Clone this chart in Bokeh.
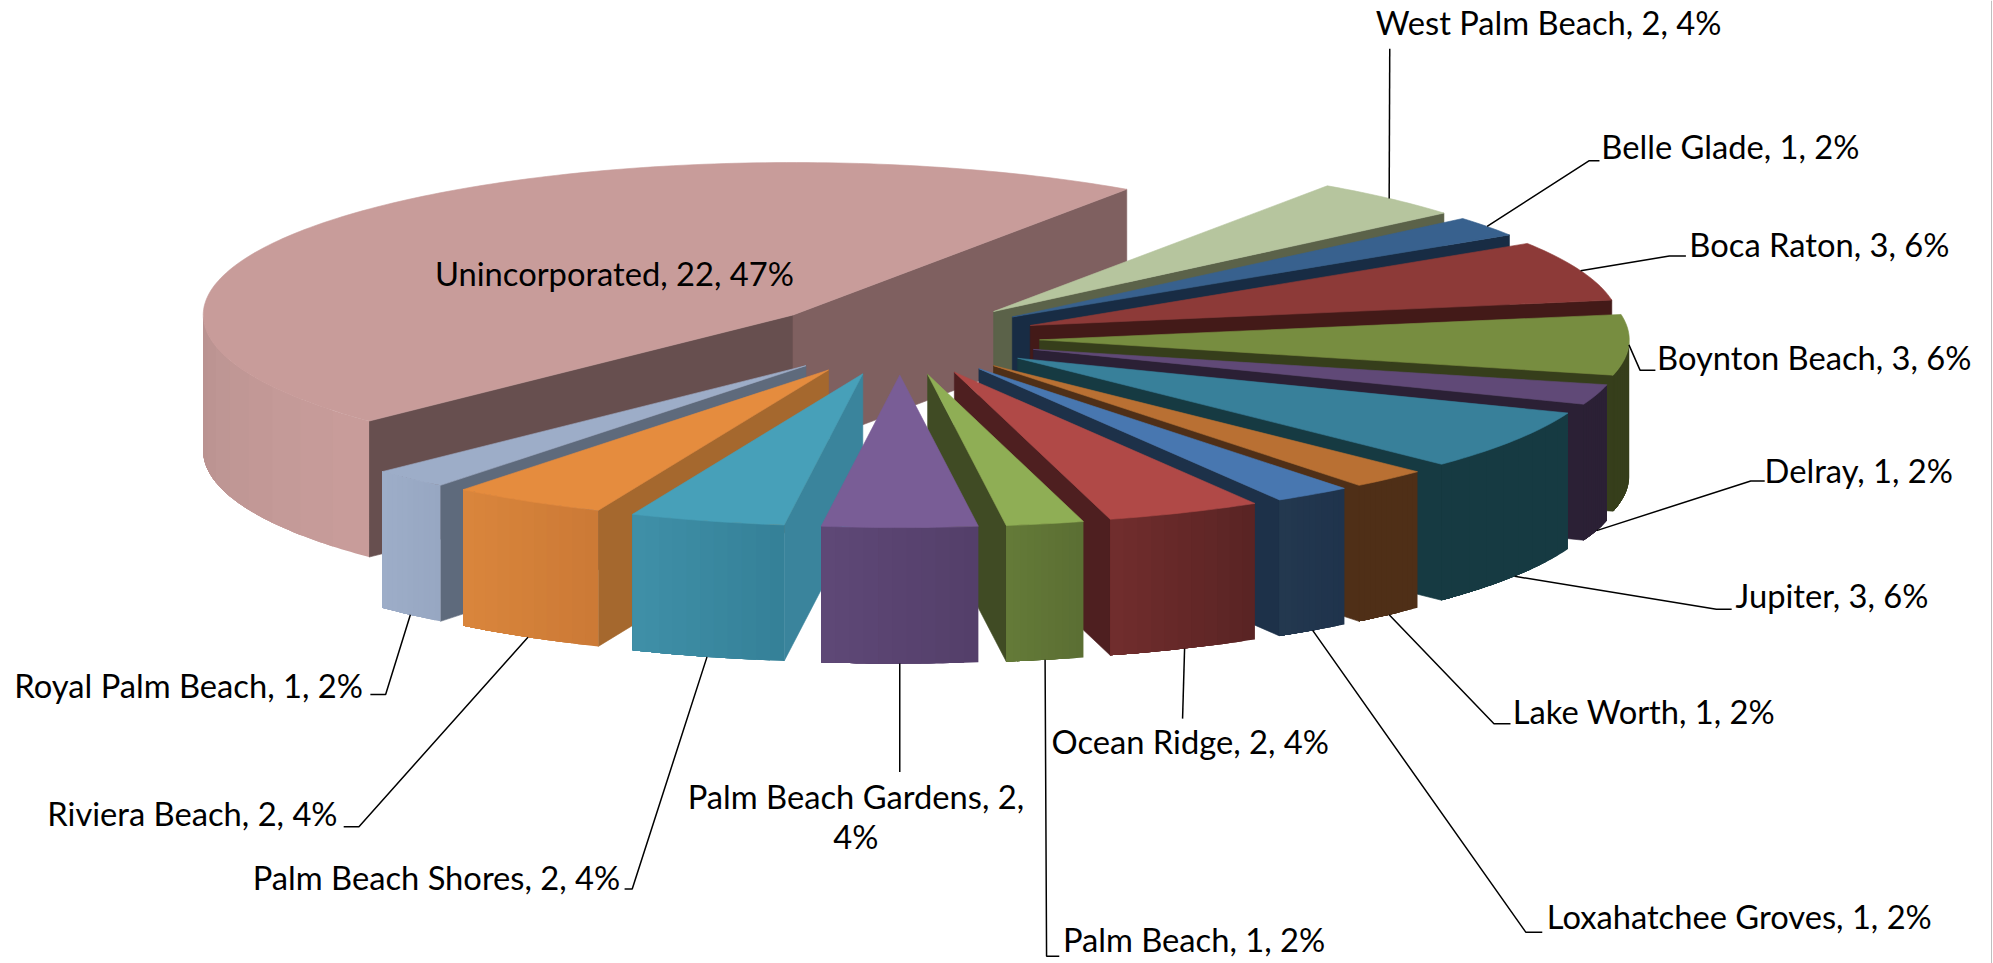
import math
from bokeh.plotting import figure
from bokeh.models import ColumnDataSource, Range1d, Span
from bokeh.embed import file_html
from bokeh.resources import INLINE
from bokeh.core.properties import value

# ---------- data ----------
names = ["Belle Glade", "Boca Raton", "Boynton Beach", "Delray", "Jupiter", "Lake Worth",
         "Loxahatchee Groves", "Ocean Ridge", "Palm Beach", "Palm Beach Gardens",
         "Palm Beach Shores", "Riviera Beach", "Royal Palm Beach", "Unincorporated", "West Palm Beach"]
counts = [1, 3, 3, 1, 3, 1, 1, 2, 1, 2, 2, 2, 1, 22, 2]
percents = [2, 6, 6, 2, 6, 2, 2, 4, 2, 4, 4, 4, 2, 47, 4]

# ---------- colours: top, wall at slice start, wall at slice end, outer wall (right, left) ----------
top_colors = ["#38618E", "#8D3A38", "#778D40", "#604977", "#38809A", "#B97033", "#4877B0", "#B04947",
              "#8FAE55", "#795D96", "#47A0B9", "#E58C3E", "#9DADC8", "#C89C9A", "#B6C59E"]
start_wall = ["#182C44", "#431A18", "#363E1B", "#2B2035", "#163A42", "#4F2F17", "#1D3149", "#4E1F20",
              "#404B24", "#543F6A", "#3A849C", "#A5682E", "#5E6A7C", "#674F4F", "#5B6249"]
end_wall = ["#182C44", "#431A18", "#363E1B", "#2B2035", "#163A42", "#4F2F17", "#1D3149", "#4E1F20",
            "#404B24", "#543F6A", "#3A849C", "#A5682E", "#5E6A7C", "#7F6060", "#5B6249"]
outer_right = ["#182C44", "#431A18", "#363E1B", "#2B2035", "#163A42", "#4F2F17", "#1F334C", "#5A2424",
               "#5B6F33", "#543F6A", "#358198", "#CC7A36", "#97A7C2", "#C89C9A", "#5B6249"]
outer_left = ["#182C44", "#431A18", "#363E1B", "#2B2035", "#163A42", "#4F2F17", "#23384F", "#712D2D",
              "#647A38", "#5E4877", "#4090A8", "#DA863C", "#9DADC8", "#B89290", "#5B6249"]

# ---------- layout (in 1568-wide picture units) ----------
K = 1993 / 1568
CX, CY = 707.5, 266.0      # pie centre on the page
RX, RY = 464.0, 120.0      # radius of the pie as an ellipse
EX, EY = 110.0, 28.7       # how far each slice is pulled out
DEPTH = 107.0              # wall height

# label centre (x, y) and the leader's bend points, by slice
label_pos = {
    "West Palm Beach": (1218, 17), "Belle Glade": (1361, 115), "Boca Raton": (1431, 192),
    "Boynton Beach": (1427, 281), "Delray": (1462, 370), "Jupiter": (1441, 468),
    "Lake Worth": (1293, 559), "Loxahatchee Groves": (1368, 721), "Ocean Ridge": (936, 583),
    "Palm Beach": (939, 739), "Palm Beach Gardens": (673, 642), "Palm Beach Shores": (343, 690),
    "Riviera Beach": (151, 640), "Royal Palm Beach": (148, 539), "Unincorporated": (483, 215),
}
bends = {
    "West Palm Beach": [(1093, 38)], "Belle Glade": [(1250, 126), (1258, 126)],
    "Boca Raton": [(1313, 201), (1326, 201)], "Boynton Beach": [(1290, 291), (1302, 291)],
    "Delray": [(1377, 378), (1388, 378)], "Jupiter": [(1350, 479), (1362, 479)],
    "Lake Worth": [(1175, 569), (1188, 569)], "Loxahatchee Groves": [(1200, 733), (1213, 733)],
    "Ocean Ridge": [(930, 565)], "Palm Beach": [(823, 752), (833, 752)],
    "Palm Beach Gardens": [(707.5, 607)], "Palm Beach Shores": [(497, 699), (491, 699)],
    "Riviera Beach": [(282, 650), (270, 650)], "Royal Palm Beach": [(303, 546), (291, 546)],
}
# leaders on the far side leave from the top rim, the others from the foot of the wall
from_top = {"West Palm Beach", "Belle Glade", "Boca Raton", "Boynton Beach"}

# ---------- pie model ----------
total = sum(counts)
sweeps = [c / total * 360 for c in counts]
# "Palm Beach Gardens" is centred on the viewer
gi = names.index("Palm Beach Gardens")
a0 = -sweeps[gi] / 2 - sum(sweeps[:gi])


def ground(a_deg, r_x, r_y):
    a = math.radians(a_deg)
    return -math.sin(a) * r_x, math.cos(a) * r_y


def mix(c1, c2, t):
    a = [int(c1[i:i + 2], 16) for i in (1, 3, 5)]
    b = [int(c2[i:i + 2], 16) for i in (1, 3, 5)]
    return "#%02X%02X%02X" % tuple(round(a[i] + (b[i] - a[i]) * t) for i in range(3))


slices = []
acc = a0
for i, n in enumerate(names):
    s, e = acc, acc + sweeps[i]
    acc = e
    mid = (s + e) / 2
    dx, dy = ground(mid, EX, EY)
    back = min(math.cos(math.radians(s + (e - s) * j / 40)) for j in range(41))
    slices.append(dict(i=i, name=n, s=s, e=e, mid=mid, ax=CX + dx, ay=CY + dy, back=back))

order = sorted(slices, key=lambda d: d["back"])
xs, ys, fills, widths = [], [], [], []


def add(pts, color, w=0.6):
    xs.append([p[0] * K for p in pts])
    ys.append([p[1] * K for p in pts])
    fills.append(color)
    widths.append(w)


for d in order:
    i = d["i"]
    ax, ay = d["ax"], d["ay"]

    def rim(a):
        x, y = ground(a, RX, RY)
        return ax + x, ay + y

    # radial walls that face the viewer
    if math.sin(math.radians(d["s"])) > 0:
        p = rim(d["s"])
        add([(ax, ay), p, (p[0], p[1] + DEPTH), (ax, ay + DEPTH)], start_wall[i])
    if -math.sin(math.radians(d["e"])) > 0:
        p = rim(d["e"])
        add([(ax, ay), p, (p[0], p[1] + DEPTH), (ax, ay + DEPTH)], end_wall[i])
    # curved outer wall: overlapping bands, each reaching to the wall's far end
    n_seg = max(6, int(sweeps[i] * 1.5))
    steps = [d["s"] + (d["e"] - d["s"]) * j / n_seg for j in range(n_seg + 1)]
    vis = [j for j in range(n_seg + 1) if math.cos(math.radians(steps[j])) > -1e-9]
    if len(vis) > 1:
        band = max(1, len(vis) // 8)
        for k in range(0, len(vis) - 1, band):
            run = [rim(steps[j]) for j in vis[k:]]
            t = k / max(1, len(vis) - 2)
            add(run + [(q[0], q[1] + DEPTH) for q in reversed(run)],
                mix(outer_right[i], outer_left[i], t), 0)
    # top face
    n_top = max(6, int(sweeps[i]))
    arc = [rim(d["s"] + (d["e"] - d["s"]) * j / n_top) for j in range(n_top + 1)]
    add([(ax, ay)] + arc, top_colors[i])

p = figure(width=1993, height=963, x_range=Range1d(0, 1993), y_range=Range1d(963, 0),
           output_backend="svg", toolbar_location=None, min_border=0,
           outline_line_color=None, background_fill_color="white")
p.axis.visible = False
p.grid.visible = False

p.patches("xs", "ys", source=ColumnDataSource(dict(xs=xs, ys=ys, c=fills, w=widths)),
          fill_color="c", line_color="c", line_width="w")

# leaders
lx, ly = [], []
for d in slices:
    if d["name"] not in bends:
        continue
    x, y = ground(d["mid"], RX, RY)
    sx, sy = d["ax"] + x, d["ay"] + y
    if d["name"] not in from_top:
        sy += DEPTH
    pts = [(sx, sy)] + bends[d["name"]]
    lx.append([q[0] * K for q in pts])
    ly.append([q[1] * K for q in pts])
p.multi_line(lx, ly, line_color="black", line_width=1.5)

# labels
tx, ty, tt = [], [], []
for i, n in enumerate(names):
    s = f"{n}, {counts[i]}, {percents[i]}%"
    if n == "Palm Beach Gardens":
        s = f"{n}, {counts[i]},\n{percents[i]}%"
    tx.append(label_pos[n][0] * K)
    ty.append(label_pos[n][1] * K)
    tt.append(s)
p.text(tx, ty, text=tt, text_font=value("Lato"), text_font_size="32.7px", text_color="black",
       text_align="center", text_baseline="middle", text_line_height=1.05)

p.add_layout(Span(location=1991, dimension="height", line_color="#BFBFBF", line_width=1))

open("out.html", "w").write(file_html(p, INLINE))
